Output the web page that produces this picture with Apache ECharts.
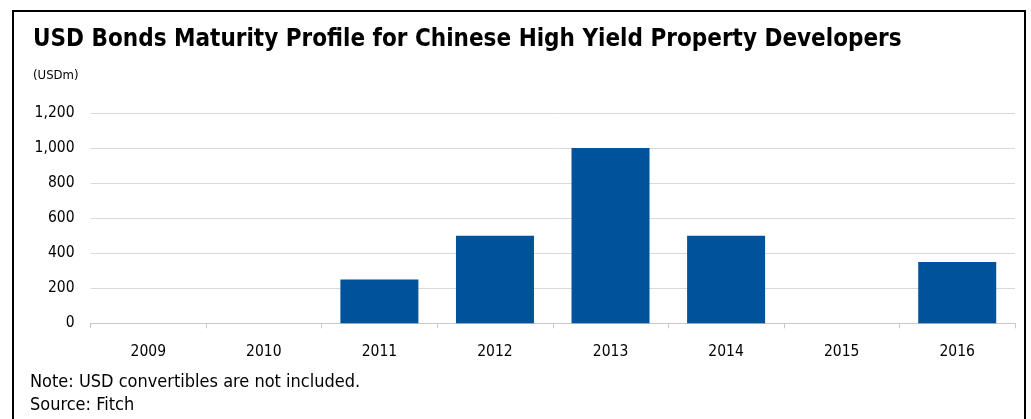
<!DOCTYPE html>
<html>
<head>
<meta charset="utf-8">
<script src="https://cdn.jsdelivr.net/npm/echarts@6/dist/echarts.min.js"></script>
<style>html,body{margin:0;padding:0;background:#fff}#c{width:1031px;height:419px}</style>
</head>
<body>
<div id="c"></div>
<script>
const categories = ['2009','2010','2011','2012','2013','2014','2015','2016'];
const values = [0, 0, 250, 500, 1000, 500, 0, 350];
const yTicks = [0, 200, 400, 600, 800, 1000, 1200];
const titleText = 'USD Bonds Maturity Profile for Chinese High Yield Property Developers';
const unitText = '(USDm)';
const noteLines = ['Note: USD convertibles are not included.', 'Source: Fitch'];

const font = '"DejaVu Sans Condensed", "DejaVu Sans"';
const chart = echarts.init(document.getElementById('c'), null, {renderer: 'canvas'});
chart.setOption({
  animation: false,
  backgroundColor: '#fff',
  title: [
    {text: titleText, left: 28, top: 23, padding: 5, textStyle: {fontFamily: font, fontSize: 24, fontWeight: 'bold', color: '#000'}},
    {text: unitText, left: 28, top: 64, padding: 5, textStyle: {fontFamily: font, fontSize: 13, fontWeight: 'normal', color: '#000'}}
  ],
  grid: {left: 90.5, right: 16, top: 113, bottom: 95.7, containLabel: false},
  xAxis: {
    type: 'category', data: categories, boundaryGap: true,
    axisLine: {lineStyle: {color: '#c8c8c8', width: 1}},
    axisTick: {show: true, alignWithLabel: false, length: 5, lineStyle: {color: '#c8c8c8'}},
    axisLabel: {fontFamily: font, fontSize: 15.5, color: '#000', margin: 21}
  },
  yAxis: {
    type: 'value', min: 0, max: 1200, interval: 200,
    axisLine: {show: false}, axisTick: {show: false},
    splitLine: {lineStyle: {color: '#d9d9d9', width: 1}},
    axisLabel: {fontFamily: font, fontSize: 15.5, color: '#000', margin: 16,
      formatter: v => yTicks.includes(v) ? v.toLocaleString('en-US') : ''}
  },
  series: [{
    type: 'bar', data: values, barWidth: '67.5%',
    itemStyle: {color: '#00529B'}
  }],
  graphic: [
    {type: 'polyline', shape: {points: [[13, 419], [13, 11], [1025, 11], [1025, 419]]}, style: {stroke: '#000', lineWidth: 2, fill: null}},
    {type: 'text', left: 30, top: 373, style: {text: noteLines[0], fontFamily: font, fontSize: 18, fill: '#000'}},
    {type: 'text', left: 30, top: 396, style: {text: noteLines[1], fontFamily: font, fontSize: 18, fill: '#000'}}
  ]
});
</script>
</body>
</html>
